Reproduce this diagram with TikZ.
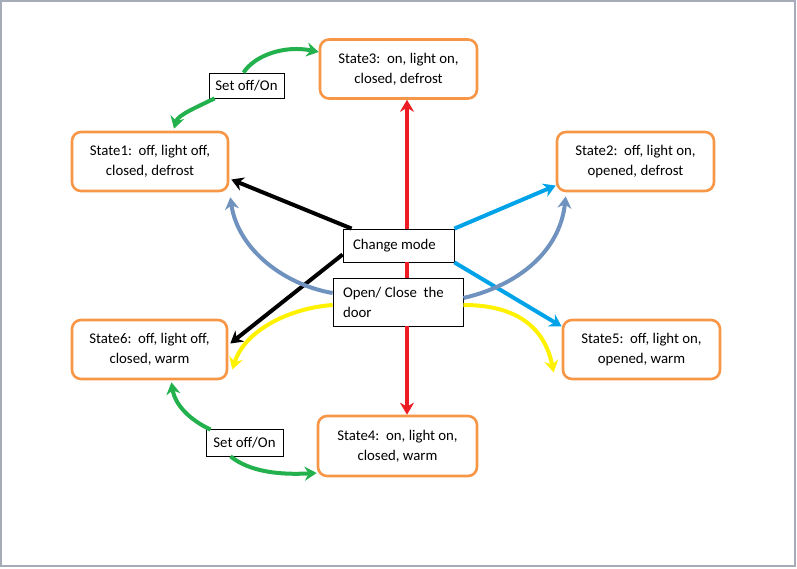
\documentclass[tikz,border=0pt]{standalone}
\usepackage{fontspec}
\setmainfont{Carlito}
\usetikzlibrary{arrows.meta}
\definecolor{stor}{HTML}{F79646}
\definecolor{redc}{HTML}{ED1C24}
\definecolor{bluec}{HTML}{00A2E8}
\definecolor{steelc}{HTML}{7092BE}
\definecolor{yelc}{HTML}{FFF200}
\definecolor{greenc}{HTML}{22B14C}
\definecolor{borderc}{HTML}{A5ACB8}
\newcommand{\normsp}{\spaceskip=0pt\xspaceskip=0pt\relax}
\begin{document}
\begin{tikzpicture}[x=1pt,y=-1pt,
  txt/.style={font=\fontsize{14.8}{20}\selectfont},
  state/.style={txt, draw=stor, line width=2.6, rounded corners=9, minimum width=157, minimum height=59, align=center, inner sep=0},
  mybox/.style={txt, draw, line width=0.8, inner xsep=10, inner ysep=0, align=left},
  setbox/.style={txt, draw, line width=0.8, inner sep=0, align=center},
  conn/.style={line width=4, -{Stealth[length=12,width=14]}},
  plain/.style={line width=4}]
\useasboundingbox (0,0) rectangle (797,569);
\draw[borderc, line width=1.2] (1,1) rectangle (795,566);

\node[state] (s3) at (398.5,69) {State3:\ \ on, light on,\\closed, defrost};
\node[state, minimum width=156] (s1) at (150,161.5) {State1:\ \ off, light off,\\closed, defrost};
\node[state] (s2) at (635.5,161.5) {State2:\ \ off, light on,\\opened, defrost};
\node[state, minimum width=155] (s6) at (149.5,349.5) {State6:\ \ off, light off,\\closed, warm};
\node[state] (s5) at (641.5,349.5) {State5:\ \ off, light on,\\opened, warm};
\node[state, minimum width=159, minimum height=60] (s4) at (397.5,446) {State4:\ \ on, light on,\\closed, warm};

\node[mybox, text width=91, minimum height=33] (cm) at (398.5,245.5) {\normsp Change mode};
\node[mybox, text width=110, minimum height=48] (od) at (398,302) {\normsp Open/ Close\ \ the\\door};

\node[setbox, minimum width=75, minimum height=25] (so1) at (246.5,85.5) {Set off/On};
\node[setbox, minimum width=77, minimum height=27] (so2) at (244.5,442.5) {Set off/On};

% red
\draw[conn, redc] ([shift={(8.5,0)}]cm.north) -- ([shift={(8.5,0)}]s3.south);
\draw[plain, redc] ([shift={(8,0)}]cm.south) -- ([shift={(8.5,0)}]od.north);
\draw[conn, redc] ([shift={(9,0)}]od.south) -- ([shift={(9.5,0)}]s4.north);
% black
\draw[conn, black] ([shift={(9,0)}]cm.north west) -- ([shift={(2,18)}]s1.east);
\draw[conn, black] ([shift={(0,9)}]cm.west) -- ([shift={(2,-6)}]s6.east);
% blue
\draw[conn, bluec] (cm.north east) -- ([shift={(0,24)}]s2.west);
\draw[conn, bluec] (cm.south east) -- ([shift={(0,-23)}]s5.west);
% steel blue
\draw[conn, steelc] ([shift={(0,-9)}]od.west) .. controls (285,285) and (238,250) .. ([shift={(1,5)}]s1.south east);
\draw[conn, steelc] ([shift={(0,-4)}]od.east) .. controls (520,285) and (560,250) .. ([shift={(10,4)}]s2.south west);
% yellow
\draw[conn, yelc] ([shift={(0,3)}]od.west) .. controls (290,308) and (245,330) .. ([shift={(4,20)}]s6.east);
\draw[conn, yelc] ([shift={(0,3)}]od.east) .. controls (520,305) and (545,330) .. ([shift={(-8,23)}]s5.west);
% green
\draw[conn, greenc] ([shift={(-3,0)}]so1.north) .. controls (255,55) and (285,45) .. ([shift={(0,-17)}]s3.west);
\draw[conn, greenc] ([shift={(6,0)}]so1.south west) .. controls (195,108) and (178,115) .. ([shift={(24,-2)}]s1.north);
\draw[conn, greenc] ([shift={(5,1)}]so2.north west) .. controls (190,420) and (175,405) .. ([shift={(22,2)}]s6.south);
\draw[conn, greenc] ([shift={(-14,0)}]so2.south) .. controls (250,472) and (280,475) .. ([shift={(0,27)}]s4.west);
\end{tikzpicture}
\end{document}
